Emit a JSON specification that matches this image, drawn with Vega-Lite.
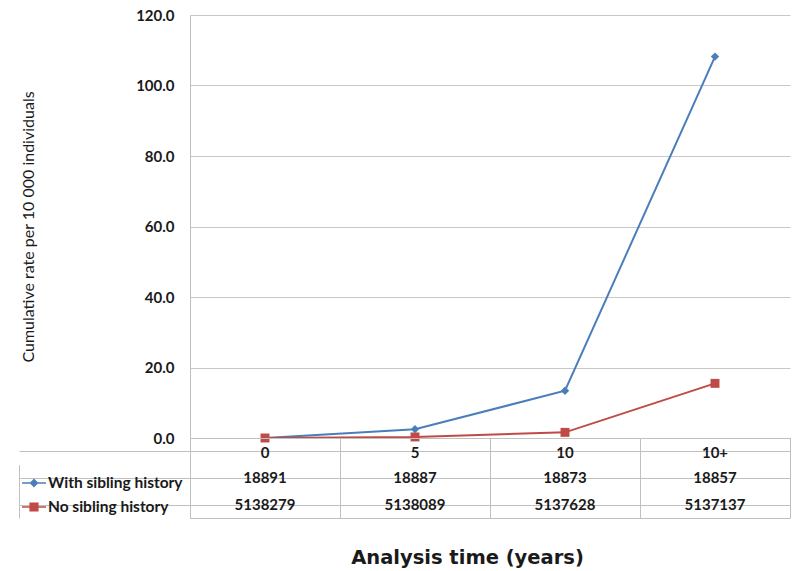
{
  "$schema": "https://vega.github.io/schema/vega-lite/v6.json",
  "padding": {"left": 18, "top": 8, "right": 11, "bottom": 5},
  "background": "white",
  "bounds": "flush",
  "spacing": 0,
  "config": {"font": "Lato", "view": {"stroke": null}},
  "data": {
    "values": [
      {"time": "0", "group": "With sibling history", "rate": 0.0, "n": 18891},
      {"time": "5", "group": "With sibling history", "rate": 2.5, "n": 18887},
      {"time": "10", "group": "With sibling history", "rate": 13.4, "n": 18873},
      {"time": "10+", "group": "With sibling history", "rate": 108.2, "n": 18857},
      {"time": "0", "group": "No sibling history", "rate": 0.0, "n": 5138279},
      {"time": "5", "group": "No sibling history", "rate": 0.3, "n": 5138089},
      {"time": "10", "group": "No sibling history", "rate": 1.6, "n": 5137628},
      {"time": "10+", "group": "No sibling history", "rate": 15.5, "n": 5137137}
    ]
  },
  "resolve": {"scale": {"x": "independent", "y": "independent"}},
  "vconcat": [
    {
      "width": 600,
      "height": 423,
      "encoding": {
        "x": {"field": "time", "type": "ordinal", "sort": ["0", "5", "10", "10+"],
              "scale": {"type": "point", "padding": 0.5},
              "axis": {"labels": false, "ticks": false, "domain": true, "domainColor": "#bfbfbf", "grid": false, "title": null}},
        "y": {"field": "rate", "type": "quantitative", "scale": {"domain": [0, 120]},
              "axis": {"values": [0, 20, 40, 60, 80, 100, 120], "format": ".1f", "grid": true, "gridColor": "#c8c8c8",
                       "domainColor": "#bfbfbf", "ticks": false, "labelPadding": 16, "labelFontSize": 15,
                       "labelFontWeight": "bold", "labelColor": "#1a1a1a",
                       "title": "Cumulative rate per 10 000 individuals", "titleFontSize": 16,
                       "titleFontWeight": "normal", "titleColor": "#1a1a1a", "titlePadding": 99}},
        "color": {"field": "group", "type": "nominal",
                  "scale": {"domain": ["With sibling history", "No sibling history"], "range": ["#4A7EBB", "#BE4B48"]},
                  "legend": {
                    "orient": "none", "legendX": -169, "legendY": 455, "title": null,
                    "labelFontSize": 15.5, "labelFontWeight": "bold", "labelColor": "#1a1a1a",
                    "symbolSize": 576, "rowPadding": 2, "labelOffset": 1, "padding": 0,
                    "symbolStrokeWidth": 1.5,
                    "encode": {"symbols": {"update": {
                      "shape": {"signal": "datum.value === 'With sibling history' ? 'M-1,0H1M0,-0.28L0.28,0L0,0.28L-0.28,0Z' : 'M-1,0H1M-0.32,-0.32H0.32V0.32H-0.32Z'"},
                      "fill": {"scale": "color", "field": "value"},
                      "stroke": {"scale": "color", "field": "value"},
                      "strokeWidth": {"value": 1.5},
                      "opacity": {"value": 1}
                    }}}
                  }}
      },
      "layer": [
        {"mark": {"type": "line", "strokeWidth": 2}},
        {"transform": [{"filter": "datum.group === 'With sibling history'"}],
         "mark": {"type": "point", "filled": true, "opacity": 1, "size": 70, "shape": "diamond"}},
        {"transform": [{"filter": "datum.group === 'No sibling history'"}],
         "mark": {"type": "point", "filled": true, "opacity": 1, "size": 80, "shape": "square"}}
      ]
    },
    {
      "width": 600,
      "height": 80,
      "view": {"stroke": "#c0c0c0"},
      "resolve": {"axis": {"y": "independent"}},
      "encoding": {
        "x": {"field": "time", "type": "ordinal", "sort": ["0", "5", "10", "10+"],
              "scale": {"type": "band", "paddingInner": 0, "paddingOuter": 0},
              "axis": {"labels": false, "ticks": false, "domain": false, "grid": true, "bandPosition": 0,
                       "gridColor": "#c0c0c0", "title": "Analysis time (years)", "titleFont": "DejaVu Sans", "titleFontSize": 19.5,
                       "titleFontWeight": "bold", "titleColor": "#1a1a1a", "titlePadding": 30, "titleX": 277}}
      },
      "layer": [
        {
          "mark": {"type": "text", "fontSize": 15, "fontWeight": "bold", "color": "#1a1a1a"},
          "encoding": {
            "y": {"field": "group", "type": "nominal",
                  "scale": {"domain": ["Time", "With sibling history", "No sibling history"], "paddingInner": 0, "paddingOuter": 0},
                  "axis": {"orient": "left", "labels": false, "title": null, "grid": true, "gridColor": "#c0c0c0",
                           "bandPosition": 1, "ticks": true, "tickSize": 171, "tickColor": "#c0c0c0",
                           "domain": true, "domainColor": "#c0c0c0"}},
            "text": {"field": "n", "type": "quantitative", "format": "d"}
          }
        },
        {
          "transform": [{"filter": "datum.group === 'With sibling history'"}],
          "mark": {"type": "text", "fontSize": 15, "fontWeight": "bold", "color": "#1a1a1a", "dy": 2},
          "encoding": {
            "y": {"datum": "Time", "type": "nominal",
                  "axis": {"orient": "left", "offset": 171, "labels": false, "title": null, "grid": false,
                           "ticks": false, "domain": true, "domainColor": "#c0c0c0",
                           "domainDash": [0, 26.67, 53.33]}},
            "text": {"field": "time", "type": "nominal"}
          }
        }
      ]
    }
  ]
}
